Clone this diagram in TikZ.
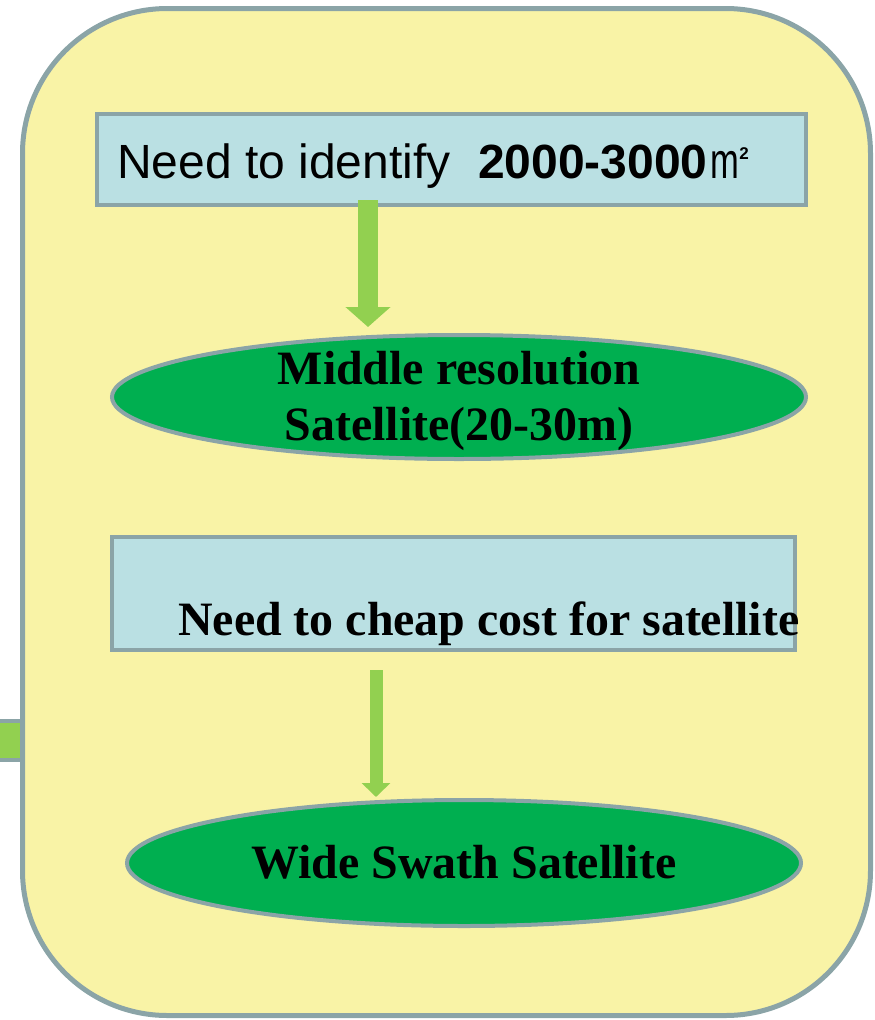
\documentclass[tikz,border=0pt]{standalone}
\usepackage{fontspec}
\setmainfont{Liberation Serif}
\newfontfamily\arialfont{Liberation Sans}
\usepackage{graphicx}
\usetikzlibrary{arrows.meta}
\usetikzlibrary{shapes.geometric}

\definecolor{panelyellow}{HTML}{F9F3A6}
\definecolor{edgegray}{HTML}{8BA4A7}
\definecolor{boxblue}{HTML}{BAE0E3}
\definecolor{satgreen}{HTML}{00AF50}
\definecolor{arrowgreen}{HTML}{92D050}

\begin{document}
\begin{tikzpicture}[x=1pt, y=-1pt,
    needbox/.style={draw=edgegray, line width=4pt, fill=boxblue, inner sep=0pt},
    satoval/.style={ellipse, draw=edgegray, line width=4pt, fill=satgreen, inner sep=0pt},
    boldtext/.style={inner sep=0pt, font=\bfseries\fontsize{47.9}{56}\selectfont},
    greenarrow/.style={draw=arrowgreen}]
        \useasboundingbox (0,0) rectangle (875,1020);
        % 左の突起と外枠
        \draw [fill=arrowgreen, draw=edgegray, line width=4pt] (-10,721) rectangle (22,760);
        \draw [fill=panelyellow, draw=edgegray, line width=5pt, rounded corners=145pt] (22.5,8.5) rectangle (870.5,1015.5);
        % 一段目
        \node [needbox, minimum width=709pt, minimum height=91pt] (need) at (451.5,159.5) {};
        \node [anchor=base west, inner sep=0pt, font=\arialfont\fontsize{48}{56}\selectfont] (needtxt) at (117,178)
            {Need to identify \hspace{14pt}\textbf{2000-3000}\hspace{3pt}\scalebox{0.72}[1.05]{m}\raisebox{19pt}{\fontsize{17}{17}\selectfont\textbf{2}}};
        \node [satoval, minimum width=694pt, minimum height=124pt] (mid) at (459,397) {};
        \node [boldtext, align=center] (midtxt) at (459,400.5) {Middle resolution\\Satellite(20-30m)};
        % 二段目
        \node [needbox, minimum width=683pt, minimum height=113pt] (cheap) at (453.5,593.5) {};
        \node [boldtext, anchor=base west] (cheaptxt) at (178,635) {Need to cheap cost for satellite};
        \node [satoval, minimum width=674pt, minimum height=126pt] (wide) at (464,863) {};
        \node [boldtext, anchor=base] (widetxt) at (464,878) {Wide Swath Satellite};
        % 矢印
        \coordinate (a1) at (368,0);
        \coordinate (a2) at (376,0);
        \draw [greenarrow, line width=20pt, -{Triangle[length=20pt, width=44pt]}, shorten >=6pt]
            ([yshift=7pt]need.south -| a1) -- (mid.north -| a1);
        \draw [greenarrow, line width=13pt, -{Triangle[length=14pt, width=28pt]}, shorten >=1pt]
            ([yshift=-18pt]cheap.south -| a2) -- (wide.north -| a2);
      \end{tikzpicture}
\end{document}
